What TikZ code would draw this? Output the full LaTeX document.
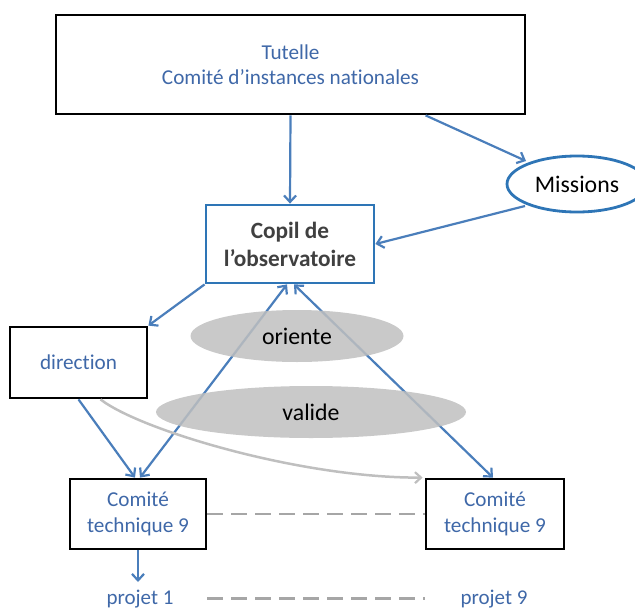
\documentclass[tikz,border=0pt]{standalone}
\usepackage{fontspec}
\setmainfont{Carlito}[Ligatures=NoCommon]
\usetikzlibrary{arrows.meta,shapes.geometric,calc}

\definecolor{linkblue}{HTML}{4A7EBB}
\definecolor{frameblue}{HTML}{2E75B6}
\definecolor{textblue}{HTML}{3F68A8}
\definecolor{darktext}{HTML}{404040}
\definecolor{bubble}{HTML}{BFBFBF}
\definecolor{softgray}{HTML}{BFBFBF}
\definecolor{dashgray}{HTML}{A6A6A6}

\tikzset{
  barbhead/.tip={Straight Barb[length=6.5pt,width=12pt,line width=2.2pt]},
  softhead/.tip={Straight Barb[length=6pt,width=11pt,line width=2.2pt]},
  blackbox/.style={draw=black, line width=2.8pt, inner sep=0pt, align=center,
    text=textblue, font=\fontsize{21.2}{25.5}\selectfont},
  copilbox/.style={draw=frameblue, line width=2.8pt, inner sep=0pt, align=center,
    text=darktext, font=\bfseries\fontsize{23.3}{28}\selectfont},
  missionell/.style={ellipse, draw=frameblue, line width=2.8pt, inner sep=0pt,
    font=\fontsize{23.8}{28}\selectfont},
  grayell/.style={ellipse, fill=bubble, fill opacity=0.85, text opacity=1,
    inner sep=0pt, font=\fontsize{23.8}{28}\selectfont},
  plain/.style={inner sep=0pt, text=textblue, font=\fontsize{21}{25}\selectfont},
  link/.style={draw=linkblue, line width=2.2pt, -barbhead},
  twoway/.style={draw=linkblue, line width=2.2pt, barbhead-barbhead},
  softlink/.style={draw=softgray, line width=2.5pt, -softhead},
  dashlink/.style={draw=dashgray, line width=2.6pt, dash pattern=on 16pt off 8pt},
}

\begin{document}
\begin{tikzpicture}[x=1pt,y=-1pt]
\useasboundingbox (0,0) rectangle (635,608);

% boxes
\node[blackbox, minimum width=469pt, minimum height=99pt] (tut) at (290.5,64.5)
  {Tutelle\\Comité d’instances nationales};
\node[copilbox, minimum width=168pt, minimum height=78pt] (copil) at (290,244)
  {Copil de\\l’observatoire};
\node[missionell, minimum width=140pt, minimum height=56pt] (miss) at (577,184) {Missions};
\node[blackbox, minimum width=137pt, minimum height=71pt] (dir) at (78.5,362.5) {direction};
\node[blackbox, minimum width=136pt, minimum height=70pt] (ct1) at (138,514)
  {Comité\\technique 9};
\node[blackbox, minimum width=138pt, minimum height=70pt] (ct9) at (495,514)
  {Comité\\technique 9};
\node[plain, anchor=base] (p1) at (140,604.5) {projet 1};
\node[plain, anchor=base] (p9) at (494,604.5) {projet 9};

% connectors
\draw[link] (tut.south) -- (copil.north);
\draw[link] ($(tut.south west)+(371,0)$) -- ($(miss.center)+(-51,-23)$);
\draw[link] ($(miss.center)+(-52,22)$) -- (copil.east);
\draw[link] (copil.south west) -- (dir.north east);
\draw[link] (dir.south) -- ($(ct1.north)+(-3,0)$);
\draw[twoway] ($(ct1.north)+(2,0)$) -- ($(copil.south)+(-3,0)$);
\draw[twoway] ($(copil.south)+(4,0)$) -- ($(ct9.north)+(-2,0)$);
\draw[softlink] ($(dir.south)+(22,0)$) .. controls (140,430) and (300,478) .. ($(ct9.north west)+(-2,0)$);
\draw[link] (ct1.south) -- ($(p1.base)+(-2,-22.5)$);
\draw[dashlink] (ct1.east) -- (ct9.west);
\draw[dashlink] ($(p1.base -| ct1.east)+(0,-6)$) -- ($(p9.base -| ct9.west)+(0,-6)$);

% labels over the links
\node[grayell, minimum width=213pt, minimum height=52pt] (ori) at (297,336) {oriente};
\node[grayell, minimum width=310pt, minimum height=52pt] (val) at (311,412) {valide};
\end{tikzpicture}
\end{document}
